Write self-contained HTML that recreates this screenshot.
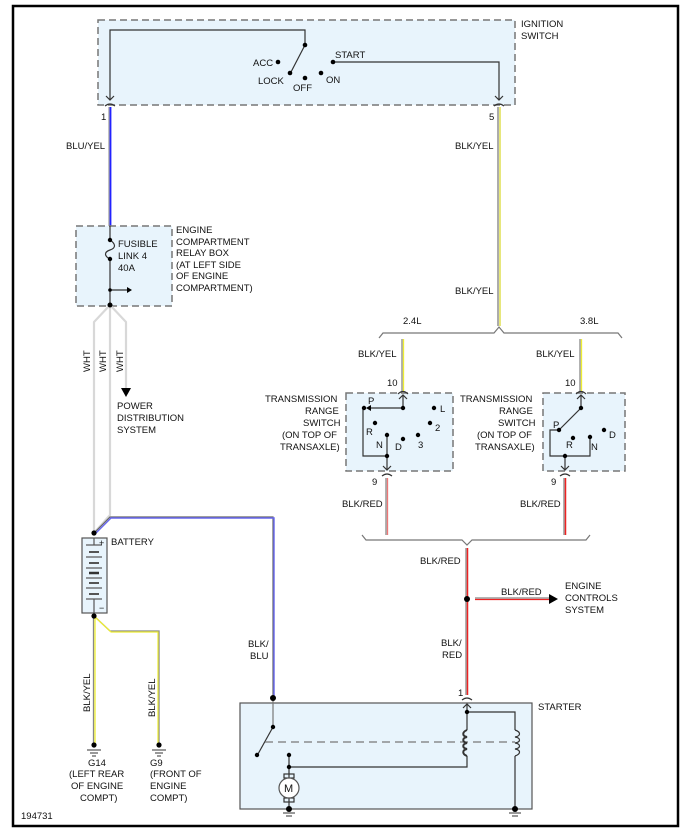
<!DOCTYPE html>
<html><head><meta charset="utf-8"><style>
html,body{margin:0;padding:0;background:#fff}
svg{display:block}
text{font-family:"Liberation Sans",sans-serif;font-size:9.5px;fill:#111}
</style></head><body>
<svg width="689" height="837" viewBox="0 0 689 837" xmlns="http://www.w3.org/2000/svg">
<rect x="13" y="6" width="665" height="820" fill="none" stroke="#000" stroke-width="2.5"/>

<!-- ignition switch -->
<rect x="98" y="20" width="417" height="85" fill="#e8f4fc" stroke="#777" stroke-width="1.5" stroke-dasharray="7,4"/>
<g stroke="#333" stroke-width="1.2" fill="none">
<polyline points="110,100 110,30 305,30 305,45"/>
<line x1="305" y1="45" x2="291" y2="72"/>
<polyline points="333,62 499,62 499,100"/>
<polyline points="106,96 110,100 114,96"/>
<polyline points="495,96 499,100 503,96"/>
<path d="M105,106 Q110,102 115,106"/>
<path d="M494,106 Q499,102 504,106"/>
</g>
<g fill="#000"><circle cx="305" cy="45" r="2.3"/><circle cx="278" cy="62" r="2.3"/><circle cx="290" cy="73" r="2.3"/><circle cx="305" cy="78" r="2.3"/><circle cx="321" cy="73" r="2.3"/><circle cx="333" cy="62" r="2.3"/></g>
<text x="253" y="66">ACC</text><text x="258" y="84">LOCK</text><text x="293" y="91">OFF</text><text x="326" y="83">ON</text><text x="335" y="58">START</text>
<text x="521" y="27">IGNITION</text><text x="521" y="39">SWITCH</text>
<text x="101" y="120">1</text><text x="489" y="120">5</text>

<!-- top wires -->
<line x1="109" y1="107" x2="109" y2="226" stroke="#999" stroke-width="1.2"/><line x1="110.5" y1="107" x2="110.5" y2="226" stroke="#22f" stroke-width="1.8"/>
<text x="66" y="149">BLU/YEL</text>
<line x1="498" y1="107" x2="498" y2="326" stroke="#888" stroke-width="1.4"/><line x1="500" y1="107" x2="500" y2="326" stroke="#dd4" stroke-width="1.4"/>
<text x="455" y="149">BLK/YEL</text><text x="455" y="294">BLK/YEL</text>

<!-- fuse box -->
<rect x="76" y="226" width="96" height="80" fill="#e8f4fc" stroke="#777" stroke-width="1.5" stroke-dasharray="7,4"/>
<g stroke="#333" stroke-width="1.2" fill="none">
<line x1="110" y1="226" x2="110" y2="240"/>
<path d="M110,240 C116,244 116,248 110,250 C104,252 104,256 110,259"/>
<line x1="110" y1="259" x2="110" y2="305"/>
<line x1="110" y1="290" x2="128" y2="290"/>
</g>
<polygon points="127,287 132,290 127,293" fill="#000"/>
<circle cx="110" cy="240" r="2.2"/><circle cx="110" cy="259" r="2.2"/><circle cx="110" cy="290" r="1.8"/>
<text x="118" y="247">FUSIBLE</text><text x="118" y="259">LINK 4</text><text x="118" y="271">40A</text>
<text x="176" y="233">ENGINE</text><text x="176" y="245">COMPARTMENT</text><text x="176" y="256">RELAY BOX</text><text x="176" y="268">(AT LEFT SIDE</text><text x="176" y="279">OF ENGINE</text><text x="176" y="291">COMPARTMENT)</text>

<!-- WHT wires -->
<g stroke="#d8d8d8" stroke-width="2.2" fill="none">
<polyline points="110,305 94,322 94,533"/>
<polyline points="110,305 110,515 94,533"/>
<polyline points="110,305 126,322 126,388"/>
</g>
<circle cx="110" cy="305" r="2.5" fill="#000"/>
<polygon points="121,388 131,388 126,397" fill="#000"/>
<text transform="translate(90,372) rotate(-90)">WHT</text>
<text transform="translate(106,372) rotate(-90)">WHT</text>
<text transform="translate(123,372) rotate(-90)">WHT</text>
<text x="117" y="409">POWER</text><text x="117" y="421">DISTRIBUTION</text><text x="117" y="433">SYSTEM</text>

<!-- BLK/BLU -->
<polyline points="94,533 110,517 273,517 273,698" fill="none" stroke="#666" stroke-width="1.2"/>
<polyline points="95,534 111,518 274,518 274,698" fill="none" stroke="#66e" stroke-width="1.4"/>
<text x="248" y="647">BLK/</text><text x="250" y="659">BLU</text>

<!-- battery -->
<rect x="82" y="538" width="25" height="75" fill="#e8f4fc" stroke="#555" stroke-width="1.2"/>
<g stroke="#555" stroke-width="1.2">
<line x1="94" y1="538" x2="94" y2="545"/><line x1="86" y1="545" x2="102" y2="545"/>
<line x1="89" y1="552" x2="99" y2="552" stroke-width="2"/><line x1="86" y1="557" x2="102" y2="557"/>
<line x1="89" y1="563" x2="99" y2="563" stroke-width="2"/><line x1="86" y1="568" x2="102" y2="568"/>
<line x1="89" y1="573" x2="99" y2="573" stroke-width="2.5" stroke="#333"/><line x1="86" y1="578" x2="102" y2="578"/>
<line x1="89" y1="583" x2="99" y2="583" stroke-width="2"/><line x1="86" y1="588" x2="102" y2="588"/>
<line x1="89" y1="594" x2="99" y2="594" stroke-width="2"/><line x1="86" y1="599" x2="102" y2="599"/>
<line x1="94" y1="599" x2="94" y2="613"/>
</g>
<text x="99" y="546" style="font-size:9px">+</text><text x="99" y="611" style="font-size:9px">−</text>
<circle cx="94" cy="533" r="2.6" fill="#000"/>
<text x="111" y="545">BATTERY</text>

<!-- ground wires -->
<polyline points="93.5,616 93.5,745" fill="none" stroke="#888" stroke-width="1.3"/>
<polyline points="95,616 95,745" fill="none" stroke="#ee3" stroke-width="1.3"/>
<polyline points="94,616 110,631 159,631 159,745" fill="none" stroke="#888" stroke-width="1.3"/>
<polyline points="95,617 111,632 158,632 158,745" fill="none" stroke="#ee3" stroke-width="1.2"/>
<circle cx="94" cy="616" r="2.6" fill="#000"/>
<text transform="translate(90,712) rotate(-90)">BLK/YEL</text>
<text transform="translate(155,717) rotate(-90)">BLK/YEL</text>
<g stroke="#333" stroke-width="1"><line x1="87" y1="750" x2="101" y2="750"/><line x1="90" y1="753" x2="98" y2="753"/><line x1="92" y1="756" x2="96" y2="756"/>
<line x1="152" y1="750" x2="166" y2="750"/><line x1="155" y1="753" x2="163" y2="753"/><line x1="157" y1="756" x2="161" y2="756"/></g>
<circle cx="94" cy="745" r="2.6"/><circle cx="159" cy="745" r="2.6"/>
<text x="88" y="766">G14</text><text x="69" y="777">(LEFT REAR</text><text x="71" y="789">OF ENGINE</text><text x="80" y="801">COMPT)</text>
<text x="150" y="766">G9</text><text x="150" y="777">(FRONT OF</text><text x="150" y="789">ENGINE</text><text x="150" y="801">COMPT)</text>
<text x="21" y="819">194731</text>

<!-- brace top -->
<path d="M379,338 L383,333 L494,333 L499,327 L504,333 L618,333 L622,338" fill="none" stroke="#777" stroke-width="1.2"/>
<text x="403" y="324">2.4L</text><text x="580" y="324">3.8L</text>

<!-- left TRS -->
<line x1="402" y1="339" x2="402" y2="392" stroke="#888" stroke-width="1.3"/><line x1="403.5" y1="339" x2="403.5" y2="392" stroke="#ee3" stroke-width="1.3"/>
<text x="358" y="357">BLK/YEL</text><text x="387" y="386">10</text>
<rect x="346" y="393" width="107" height="78" fill="#e8f4fc" stroke="#777" stroke-width="1.5" stroke-dasharray="7,4"/>
<g stroke="#333" stroke-width="1.2" fill="none">
<path d="M398,394 Q403,389 408,394"/>
<line x1="403" y1="395" x2="403" y2="408"/><polyline points="399,399 403,395 407,399"/>
<line x1="403" y1="408" x2="371" y2="408"/>
<polyline points="363,408 363,456 387,456 387,435"/>
<line x1="387" y1="456" x2="387" y2="470"/><polyline points="383,466 387,470 391,466"/>
<path d="M382,476 Q387,472 392,476"/>
</g>
<polygon points="371,405 366,408 371,411" fill="#000"/>
<g fill="#000"><circle cx="403" cy="408" r="2.2"/><circle cx="364" cy="408" r="2.2"/><circle cx="375" cy="423" r="2.2"/><circle cx="387" cy="435" r="2.2"/><circle cx="387" cy="456" r="2.2"/><circle cx="403" cy="439" r="2.2"/><circle cx="418" cy="435" r="2.2"/><circle cx="430" cy="423" r="2.2"/><circle cx="434" cy="408" r="2.2"/></g>
<text x="368" y="404">P</text><text x="366" y="435">R</text><text x="376" y="448">N</text><text x="395" y="450">D</text><text x="418" y="448">3</text><text x="435" y="431">2</text><text x="440" y="412">L</text>
<text x="265" y="402">TRANSMISSION</text><text x="305" y="414">RANGE</text><text x="303" y="426">SWITCH</text><text x="282" y="438">(ON TOP OF</text><text x="280" y="450">TRANSAXLE)</text>
<text x="372" y="485">9</text>
<line x1="386" y1="478" x2="386" y2="535" stroke="#888" stroke-width="1.3"/><line x1="387.5" y1="478" x2="387.5" y2="535" stroke="#e77" stroke-width="1.3"/>
<text x="342" y="507">BLK/RED</text>

<!-- right TRS -->
<line x1="580" y1="339" x2="580" y2="392" stroke="#888" stroke-width="1.3"/><line x1="581.5" y1="339" x2="581.5" y2="392" stroke="#ee3" stroke-width="1.3"/>
<text x="536" y="357">BLK/YEL</text><text x="565" y="386">10</text>
<rect x="543" y="393" width="82" height="78" fill="#e8f4fc" stroke="#777" stroke-width="1.5" stroke-dasharray="7,4"/>
<g stroke="#333" stroke-width="1.2" fill="none">
<path d="M576,394 Q581,389 586,394"/>
<line x1="581" y1="395" x2="581" y2="408"/><polyline points="577,399 581,395 585,399"/>
<line x1="581" y1="408" x2="560" y2="429"/>
<polyline points="559,430 550,430 550,456 590,456 590,437"/>
<line x1="565" y1="456" x2="565" y2="470"/><polyline points="561,466 565,470 569,466"/>
<path d="M560,476 Q565,472 570,476"/>
</g>
<g fill="#000"><circle cx="581" cy="408" r="2.2"/><circle cx="559" cy="430" r="2.2"/><circle cx="573" cy="438" r="2.2"/><circle cx="590" cy="437" r="2.2"/><circle cx="604" cy="430" r="2.2"/><circle cx="565" cy="456" r="2.2"/></g>
<text x="553" y="428">P</text><text x="566" y="448">R</text><text x="591" y="450">N</text><text x="609" y="438">D</text>
<text x="460" y="402">TRANSMISSION</text><text x="499" y="414">RANGE</text><text x="498" y="426">SWITCH</text><text x="477" y="438">(ON TOP OF</text><text x="475" y="450">TRANSAXLE)</text>
<text x="551" y="485">9</text>
<line x1="564" y1="478" x2="564" y2="535" stroke="#888" stroke-width="1.3"/><line x1="565.5" y1="478" x2="565.5" y2="535" stroke="#e22" stroke-width="1.5"/>
<text x="520" y="507">BLK/RED</text>

<!-- brace bottom -->
<path d="M362,535 L366,540 L462,540 L467,545 L472,540 L586,540 L590,535" fill="none" stroke="#777" stroke-width="1.2"/>

<!-- red wire -->
<line x1="466" y1="548" x2="466" y2="695" stroke="#888" stroke-width="1.3"/><line x1="467.5" y1="548" x2="467.5" y2="695" stroke="#e22" stroke-width="1.5"/>
<text x="420" y="564">BLK/RED</text>
<circle cx="467" cy="599" r="3" fill="#000"/>
<line x1="475" y1="598" x2="550" y2="598" stroke="#888" stroke-width="1.3"/><line x1="475" y1="599.5" x2="550" y2="599.5" stroke="#e22" stroke-width="1.3"/>
<polygon points="549,594 558,599 549,604" fill="#000"/>
<text x="501" y="595">BLK/RED</text>
<text x="565" y="589">ENGINE</text><text x="565" y="601">CONTROLS</text><text x="565" y="613">SYSTEM</text>
<text x="441" y="646">BLK/</text><text x="442" y="658">RED</text>
<text x="458" y="696">1</text>

<!-- starter -->
<rect x="240" y="703" width="292" height="106" fill="#e8f4fc" stroke="#555" stroke-width="1.2"/>
<text x="538" y="710">STARTER</text>
<g stroke="#333" stroke-width="1.2" fill="none">
<line x1="273" y1="698" x2="273" y2="727" stroke="#777"/>
<line x1="273" y1="727" x2="258" y2="754"/>
<line x1="265" y1="742" x2="515" y2="742" stroke="#777" stroke-dasharray="8,5"/>
<polyline points="289,755 289,767 467,767 467,756"/>
<path d="M462,700 Q467,696 472,700"/>
<polyline points="463,708 467,704 471,708"/>
<line x1="467" y1="704" x2="467" y2="730"/>
<path d="M467,730 C462,732 462,736 467,737 C462,738 462,742 467,743 C462,744 462,748 467,749 C462,750 462,754 467,756" stroke-width="2"/>
<polyline points="467,712 515,712 515,730"/>
<path d="M515,730 C521,732 521,736 515,737 C521,738 521,742 515,743 C521,744 521,748 515,749 C521,750 521,754 515,756"/>
<line x1="515" y1="756" x2="515" y2="809"/>
<line x1="289" y1="767" x2="289" y2="778"/>
<line x1="289" y1="798" x2="289" y2="809"/>
<rect x="284" y="774" width="10" height="4"/><rect x="284" y="798" width="10" height="4"/>
</g>
<circle cx="289" cy="788" r="10" fill="#fff" stroke="#555" stroke-width="1.2"/>
<text x="284" y="792" style="font-size:11px">M</text>
<g fill="#000"><circle cx="273" cy="698" r="3"/><circle cx="273" cy="727" r="2.2"/><circle cx="257" cy="755" r="2.2"/><circle cx="289" cy="755" r="2.2"/><circle cx="289" cy="767" r="2.2"/><circle cx="467" cy="712" r="2.2"/><circle cx="289" cy="809" r="3"/><circle cx="515" cy="809" r="3"/></g>
<g stroke="#333" stroke-width="1"><line x1="283" y1="813" x2="295" y2="813"/><line x1="286" y1="816" x2="292" y2="816"/><line x1="509" y1="813" x2="521" y2="813"/><line x1="512" y1="816" x2="518" y2="816"/></g>
</svg>
</body></html>
